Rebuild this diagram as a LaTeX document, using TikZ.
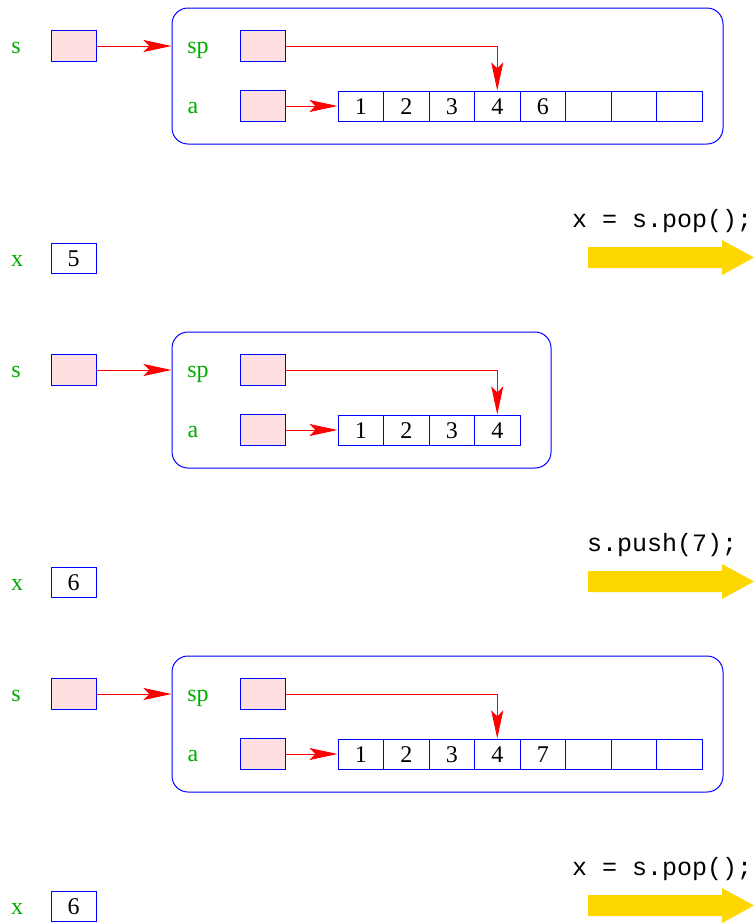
\documentclass[tikz,border=0pt]{standalone}
\usepackage{fontspec}
\setmainfont{Liberation Serif}
\setmonofont{Liberation Mono}
\usetikzlibrary{arrows.meta}
\definecolor{labelgreen}{RGB}{0,170,0}
\definecolor{boxpink}{RGB}{255,224,224}
\definecolor{gold}{RGB}{255,215,0}
\begin{document}
\begin{tikzpicture}[x=1pt,y=-1pt,
        lbl/.style={text=labelgreen,font=\fontsize{24}{28}\selectfont,inner sep=0pt,anchor=base},
        ptr/.style={draw=blue,fill=boxpink,line width=1pt,minimum width=45pt,minimum height=31pt,inner sep=0pt},
        cell/.style={draw=blue,line width=1pt,minimum width=45.5pt,minimum height=30pt,inner sep=0pt,
                text height=16pt,text depth=0pt,font=\fontsize{24}{28}\selectfont},
        frame/.style={draw=blue,line width=1pt,rounded corners=16pt,inner sep=0pt},
        link/.style={draw=red,line width=1pt,-{Stealth[length=28pt,width=12pt,inset=6pt]}},
        code/.style={font=\ttfamily\fontsize{25}{30}\selectfont,inner sep=0pt,anchor=base west},
        bigarrow/.style={fill=gold}
    ]
    \useasboundingbox (0,0) rectangle (754,924);

    % stack before pop
    \node[lbl] (sl1) at (16,53) {s};
    \node[ptr] (s1) at (73.5,46) {};
    \node[frame,minimum width=551pt,minimum height=136pt] (st1) at (447.5,76) {};
    \node[lbl] (spl1) at (198,53) {sp};
    \node[ptr] (sp1) at (262.5,46) {};
    \node[lbl] (al1) at (193,113) {a};
    \node[ptr] (a1) at (262.5,106) {};
    \foreach \v [count=\i] in {1,2,3,4,6,{},{},{}}
        \node[cell] (c1-\i) at ({338+45.5*(\i-0.5)},106) {\v};
    \draw[link] (s1.east) -- (s1.east -| st1.west);
    \draw[link] (sp1.east) -| (c1-4.north);
    \draw[link] (a1.east) -- (c1-1.west);

    \node[lbl] (xl1) at (17,266) {x};
    \node[cell,minimum width=45pt] (x1) at (73.5,258) {5};
    \node[code] (op1) at (572,227) {x = s.pop();};
    \fill[bigarrow] (588,247) -- ++(134,0) -- ++(0,-7) -- ++(32,17.5) -- ++(-32,17.5)
        -- ++(0,-7) -- ++(-134,0) -- cycle;

    % stack after pop
    \begin{scope}[yshift=-324pt]
        \node[lbl] (sl2) at (16,53) {s};
        \node[ptr] (s2) at (73.5,46) {};
        \node[frame,minimum width=379pt,minimum height=136pt] (st2) at (361.5,76) {};
        \node[lbl] (spl2) at (198,53) {sp};
        \node[ptr] (sp2) at (262.5,46) {};
        \node[lbl] (al2) at (193,113) {a};
        \node[ptr] (a2) at (262.5,106) {};
        \foreach \v [count=\i] in {1,2,3,4}
            \node[cell] (c2-\i) at ({338+45.5*(\i-0.5)},106) {\v};
        \draw[link] (s2.east) -- (s2.east -| st2.west);
        \draw[link] (sp2.east) -| (c2-4.north);
        \draw[link] (a2.east) -- (c2-1.west);

        \node[lbl] (xl2) at (17,266) {x};
        \node[cell,minimum width=45pt] (x2) at (73.5,258) {6};
        \node[code] (op2) at (587,227) {s.push(7);};
        \fill[bigarrow] (588,247) -- ++(134,0) -- ++(0,-7) -- ++(32,17.5) -- ++(-32,17.5)
            -- ++(0,-7) -- ++(-134,0) -- cycle;
    \end{scope}

    % stack after push
    \begin{scope}[yshift=-648pt]
        \node[lbl] (sl3) at (16,53) {s};
        \node[ptr] (s3) at (73.5,46) {};
        \node[frame,minimum width=551pt,minimum height=136pt] (st3) at (447.5,76) {};
        \node[lbl] (spl3) at (198,53) {sp};
        \node[ptr] (sp3) at (262.5,46) {};
        \node[lbl] (al3) at (193,113) {a};
        \node[ptr] (a3) at (262.5,106) {};
        \foreach \v [count=\i] in {1,2,3,4,7,{},{},{}}
            \node[cell] (c3-\i) at ({338+45.5*(\i-0.5)},106) {\v};
        \draw[link] (s3.east) -- (s3.east -| st3.west);
        \draw[link] (sp3.east) -| (c3-4.north);
        \draw[link] (a3.east) -- (c3-1.west);

        \node[lbl] (xl3) at (17,266) {x};
        \node[cell,minimum width=45pt] (x3) at (73.5,258) {6};
        \node[code] (op3) at (572,227) {x = s.pop();};
        \fill[bigarrow] (588,247) -- ++(134,0) -- ++(0,-7) -- ++(32,17.5) -- ++(-32,17.5)
            -- ++(0,-7) -- ++(-134,0) -- cycle;
    \end{scope}
\end{tikzpicture}
\end{document}
